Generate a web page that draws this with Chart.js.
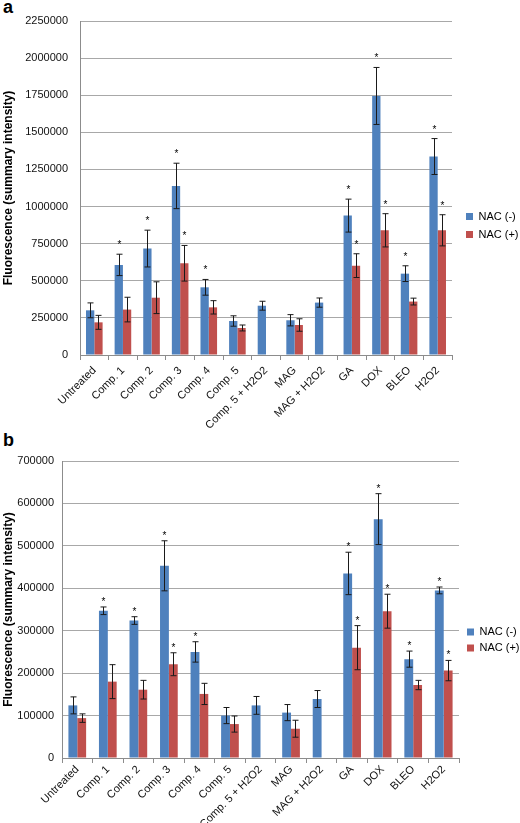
<!DOCTYPE html>
<html>
<head>
<meta charset="utf-8">
<script src="https://cdn.jsdelivr.net/npm/chart.js@4.4.1/dist/chart.umd.min.js"></script>
<style>
  body { margin: 0; background: #fff; width: 520px; height: 823px; position: relative; overflow: hidden; font-family: "Liberation Sans", Arial, sans-serif; }
  .panel { position: absolute; left: 3px; font-weight: bold; font-size: 18px; line-height: 18px; color: #000; }
  .wrap { position: absolute; left: 0; width: 520px; }
</style>
</head>
<body>
<div class="panel" style="top:-2px">a</div>
<div class="panel" style="top:431px">b</div>
<div class="wrap" style="top:0;height:440px"><canvas id="chart-a" width="520" height="440"></canvas></div>
<div class="wrap" style="top:430px;height:393px"><canvas id="chart-b" width="520" height="393"></canvas></div>
<script>
const categories = ['Untreated', 'Comp. 1', 'Comp. 2', 'Comp. 3', 'Comp. 4', 'Comp. 5', 'Comp. 5 + H2O2',
  'MAG', 'MAG + H2O2', 'GA', 'DOX', 'BLEO', 'H2O2'];

// panel a
const nacMinusA = [301000, 607000, 717000, 1139000, 456000, 229000, 332000, 234000, 353000, 939000, 1745000, 548000, 1337000];
const errMinusA = [50000, 72000, 124000, 153000, 53000, 35000, 30000, 38000, 31000, 111000, 192000, 53000, 121000];
const nacPlusA = [220000, 306000, 386000, 618000, 321000, 182000, null, 202000, null, 602000, 840000, 360000, 840000];
const errPlusA = [47000, 83000, 107000, 120000, 45000, 20000, null, 42000, null, 80000, 112000, 23000, 105000];

// panel b
const nacMinusB = [124000, 347000, 324000, 453000, 250000, 100000, 124000, 107000, 139000, 435000, 563000, 233000, 395000];
const errMinusB = [20000, 9000, 9000, 59000, 24000, 19000, 21000, 19000, 20000, 50000, 60000, 19000, 8000];
const nacPlusB = [94000, 180000, 161000, 221000, 151000, 80000, null, 69000, null, 260000, 346000, 172000, 206000];
const errPlusB = [10000, 40000, 22000, 27000, 25000, 19000, null, 20000, null, 52000, 40000, 11000, 24000];

// significance marks (same in both panels)
const starsMinus = [false, true, true, true, true, false, false, false, false, true, true, true, true];
const starsPlus = [false, false, false, true, false, false, false, false, false, true, true, false, true];

const FONT = '"Liberation Sans", Arial, sans-serif';
const BLUE = '#4F81BD';
const RED = '#C0504D';


const errorBarPlugin = {
  id: 'errorBars',
  afterDatasetsDraw(chart, args, opts) {
    const ctx = chart.ctx;
    const yScale = chart.scales.y;
    ctx.save();
    ctx.strokeStyle = '#1a1a1a';
    ctx.fillStyle = '#000';
    ctx.lineWidth = 1;
    ctx.font = '10px ' + FONT;
    ctx.textAlign = 'center';
    ctx.textBaseline = 'alphabetic';
    chart.data.datasets.forEach((ds, i) => {
      const meta = chart.getDatasetMeta(i);
      meta.data.forEach((bar, j) => {
        const v = ds.data[j];
        const e = ds.errors[j];
        if (v == null || e == null) return;
        const x = Math.round(bar.x) + 0.5;
        const yTop = yScale.getPixelForValue(v + e);
        const yBot = yScale.getPixelForValue(v - e);
        ctx.beginPath();
        ctx.moveTo(x, yTop);
        ctx.lineTo(x, yBot);
        ctx.moveTo(x - 3, yTop);
        ctx.lineTo(x + 3, yTop);
        ctx.moveTo(x - 3, yBot);
        ctx.lineTo(x + 3, yBot);
        ctx.stroke();
        if (ds.stars[j]) {
          ctx.fillText('*', x, yTop - opts.starGap);
        }
      });
    });
    ctx.restore();
  }
};

// nudge the legend block to sit where the original one does
const legendShiftPlugin = {
  id: 'legendShift',
  afterLayout(chart, args, opts) {
    const lg = chart.legend;
    if (!lg) return;
    lg.left += opts.dx;
    lg.right += opts.dx;
    lg.top += opts.dy;
    lg.bottom += opts.dy;
  }
};


function buildChart(id, minus, errMinus, plus, errPlus, cfg) {
  const canvas = document.getElementById(id);
  return new Chart(canvas, {
    type: 'bar',
    data: {
      labels: categories,
      datasets: [{
        label: 'NAC (-)',
        data: minus,
        errors: errMinus,
        stars: starsMinus,
        backgroundColor: BLUE,
        categoryPercentage: 0.58,
        barPercentage: 1.0
      }, {
        label: 'NAC (+)',
        data: plus,
        errors: errPlus,
        stars: starsPlus,
        backgroundColor: RED,
        categoryPercentage: 0.58,
        barPercentage: 1.0
      }]
    },
    options: {
      responsive: false,
      animation: false,
      layout: {
        padding: { top: cfg.padTop, right: 0, left: 0, bottom: 0 }
      },
      scales: {
        x: {
          grid: { display: true, drawOnChartArea: false, drawTicks: true, tickLength: 5, offset: true, color: '#8c8c8c' },
          border: { color: '#8c8c8c' },
          ticks: {
            autoSkip: false,
            minRotation: 45,
            maxRotation: 45,
            padding: cfg.xTickPad,
            color: '#111',
            font: { size: 11, family: FONT }
          },
          afterFit: s => { s.height = cfg.xHeight; }
        },
        y: {
          min: 0,
          max: cfg.max,
          grid: { color: '#a8a8a8', drawTicks: false },
          border: { color: '#8c8c8c' },
          ticks: {
            stepSize: cfg.step,
            padding: cfg.tickPad,
            color: '#111',
            font: { size: 11, family: FONT },
            callback: v => String(v)
          },
          title: {
            display: true,
            text: 'Fluorescence (summary intensity)',
            color: '#000',
            font: { size: 12, weight: 'bold', family: FONT },
            padding: { top: 1, bottom: 0 }
          },
          afterFit: s => { s.width = cfg.yWidth; }
        }
      },
      plugins: {
        legend: {
          position: 'right',
          maxWidth: cfg.legendWidth,
          labels: {
            boxWidth: 7,
            boxHeight: 7,
            padding: cfg.legendPad,
            color: '#000',
            font: { size: 11, family: FONT }
          }
        },
        tooltip: { enabled: false },
        errorBars: { starGap: cfg.starGap },
        legendShift: { dx: cfg.legendDx, dy: cfg.legendDy }
      }
    },
    plugins: [errorBarPlugin, legendShiftPlugin]
  });
}

buildChart('chart-a', nacMinusA, errMinusA, nacPlusA, errPlusA, {
  max: 2250000, step: 250000, padTop: 21, xHeight: 85, xTickPad: 4, yWidth: 80, tickPad: 12,
  legendWidth: 68, legendPad: 7, legendDx: 7, legendDy: -5, starGap: 6
});

buildChart('chart-b', nacMinusB, errMinusB, nacPlusB, errPlusB, {
  max: 700000, step: 100000, padTop: 31, xHeight: 65, xTickPad: 0, yWidth: 62, tickPad: 8,
  legendWidth: 61, legendPad: 5, legendDx: 3, legendDy: -2, starGap: 2
});
</script>
</body>
</html>
